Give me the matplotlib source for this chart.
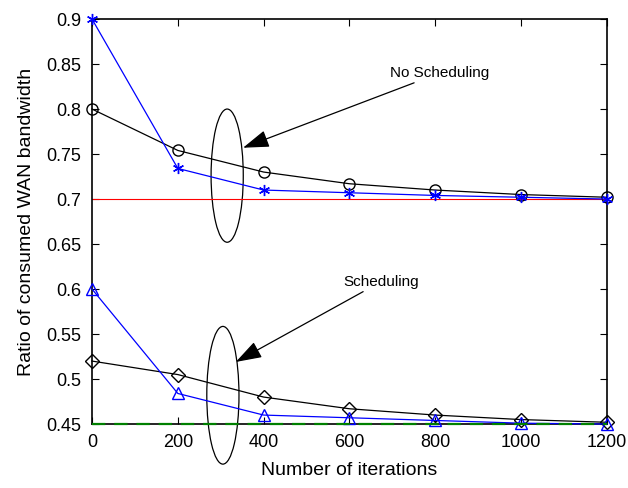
import matplotlib
matplotlib.use('Agg')
import matplotlib.pyplot as plt
from matplotlib.patches import Ellipse

plt.rcParams['font.family'] = ['Liberation Sans', 'DejaVu Sans']

iterations = [0, 200, 400, 600, 800, 1000, 1200]
no_sched_circle = [0.800, 0.754, 0.730, 0.717, 0.710, 0.705, 0.702]
no_sched_star = [0.900, 0.734, 0.710, 0.707, 0.704, 0.702, 0.700]
sched_diamond = [0.520, 0.505, 0.480, 0.467, 0.460, 0.455, 0.452]
sched_triangle = [0.600, 0.484, 0.460, 0.457, 0.454, 0.451, 0.450]
no_sched_bound = 0.70
sched_bound = 0.45
yticks = [0.45, 0.5, 0.55, 0.6, 0.65, 0.7, 0.75, 0.8, 0.85, 0.9]
ytick_labels = ['0.45', '0.5', '0.55', '0.6', '0.65', '0.7', '0.75', '0.8', '0.85', '0.9']

fig = plt.figure(figsize=(6.28, 4.88), dpi=100)
ax = fig.add_axes([0.1465, 0.131, 0.82, 0.83])

ax.axhline(no_sched_bound, color='red', linewidth=0.8)
ax.plot(iterations, no_sched_circle, color='black', linewidth=0.9,
        marker='o', markersize=8, markerfacecolor='none', clip_on=False, zorder=4)
ax.plot(iterations, no_sched_star, color='blue', linewidth=0.9,
        marker=(6, 2, 0), markersize=8, markeredgewidth=1.0, clip_on=False, zorder=4)
ax.plot(iterations, sched_diamond, color='black', linewidth=0.9,
        marker='D', markersize=7, markerfacecolor='none', clip_on=False, zorder=4)
ax.plot(iterations, sched_triangle, color='blue', linewidth=0.9,
        marker='^', markersize=8, markerfacecolor='none', clip_on=False, zorder=4)
ax.axhline(sched_bound, color='green', linewidth=1.6, linestyle=(0, (6, 4)),
           clip_on=False, zorder=5)

ax.set_xlim(0, 1200)
ax.set_ylim(0.45, 0.9)
ax.set_xticks(iterations)
ax.set_yticks(yticks)
ax.set_yticklabels(ytick_labels)
ax.tick_params(direction='in', top=True, right=True, labelsize=13, length=5)
ax.tick_params(axis='x', pad=7)
ax.tick_params(axis='y', pad=8)
for sp in ax.spines.values():
    sp.set_linewidth(1.2)
ax.set_xlabel('Number of iterations', fontsize=14, labelpad=8)
ax.set_ylabel('Ratio of consumed WAN bandwidth', fontsize=14, labelpad=8)

# ellipses grouping curves
ax.add_patch(Ellipse((315, 0.726), 75, 0.148, fill=False, color='black',
                     linewidth=0.9, clip_on=False))
ax.add_patch(Ellipse((305, 0.482), 75, 0.153, fill=False, color='black',
                     linewidth=0.9, clip_on=False))

arrow = dict(arrowstyle='-|>,head_length=0.9,head_width=0.3', color='black',
             linewidth=0.9, mutation_scale=18, shrinkA=0, shrinkB=0)
ax.annotate('No Scheduling', xy=(352, 0.757), xytext=(695, 0.84),
            fontsize=11, va='center', ha='left', arrowprops=arrow)
ax.annotate('Scheduling', xy=(335, 0.519), xytext=(585, 0.608),
            fontsize=11, va='center', ha='left', arrowprops=arrow)

fig.savefig('out.png', dpi=100)
